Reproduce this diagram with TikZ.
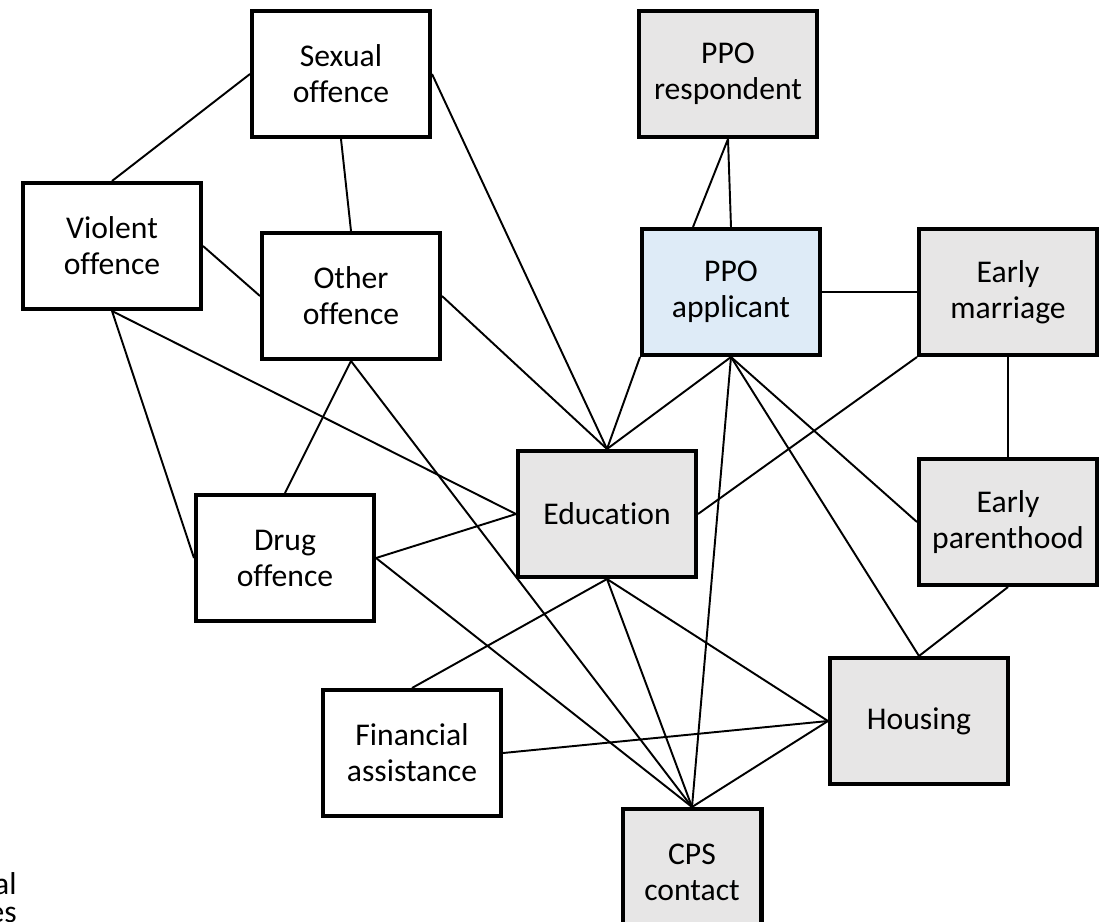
\documentclass[tikz,border=0pt]{standalone}
\usepackage{fontspec}
\setmainfont{Carlito}[Ligatures=NoCommon]
\begin{document}
\begin{tikzpicture}[x=0.02cm,y=-0.02cm,
   box/.style={draw,line width=2.3pt,minimum width=3.56cm,minimum height=2.52cm,
    align=center,font=\fontsize{18}{20.5}\selectfont},
   outcome/.style={box,fill=outcomegray},
   link/.style={line width=1.1pt}]
   \definecolor{outcomegray}{HTML}{E7E6E6}
   \definecolor{applicantblue}{HTML}{DEEBF7}
   \useasboundingbox (0,0) rectangle (1099,921);
   \clip (0,0) rectangle (1099,921);
   % offences
   \node [box] (sexual) at (341,74) {Sexual\\offence};
   \node [box] (violent) at (112,246) {Violent\\offence};
   \node [box] (other) at (351,296) {Other\\offence};
   \node [box] (drug) at (285,558) {Drug\\offence};
   \node [box] (financial) at (412,753) {Financial\\assistance};
   % PPO and outcomes
   \node [outcome] (respondent) at (728,74) {PPO\\respondent};
   \node [box,fill=applicantblue] (applicant) at (731,292) {PPO\\applicant};
   \node [outcome] (marriage) at (1008,292) {Early\\marriage};
   \node [outcome] (parenthood) at (1008,522) {Early\\parenthood};
   \node [outcome] (education) at (607,514) {Education};
   \node [outcome] (housing) at (919,721) {Housing};
   \node [outcome,minimum width=2.78cm] (cps) at (692,872) {CPS\\contact};
   % cut-off text at the lower left
   \node [anchor=north east,align=right,inner sep=0pt,
    font=\fontsize{18}{16}\selectfont] (note) at (17,872) {al\\es};
   % links
   \draw [link] (sexual.west) -- (violent.north);
   \draw [link] (sexual.south) -- (other.north);
   \draw [link] (sexual.east) -- (education.north);
   \draw [link] (violent.east) -- (other.west);
   \draw [link] (violent.south) -- (drug.west);
   \draw [link] (violent.south) -- (education.west);
   \draw [link] (other.east) -- (education.north);
   \draw [link] (other.south) -- (drug.north);
   \draw [link] (other.south) -- (cps.north);
   \draw [link] (respondent.south) -- ([xshift=-0.76cm]applicant.north);
   \draw [link] (respondent.south) -- (applicant.north);
   \draw [link] (applicant.east) -- (marriage.west);
   \draw [link] (applicant.south west) -- (education.north);
   \draw [link] (applicant.south) -- (education.north);
   \draw [link] (applicant.south) -- (cps.north);
   \draw [link] (applicant.south) -- (housing.north);
   \draw [link] (applicant.south) -- (parenthood.west);
   \draw [link] (marriage.south west) -- (education.east);
   \draw [link] (marriage.south) -- (parenthood.north);
   \draw [link] (parenthood.south) -- (housing.north);
   \draw [link] (drug.east) -- (education.west);
   \draw [link] (drug.east) -- (cps.north);
   \draw [link] (education.south) -- (financial.north);
   \draw [link] (education.south) -- (cps.north);
   \draw [link] (education.south) -- (housing.west);
   \draw [link] (financial.east) -- (housing.west);
   \draw [link] (cps.north) -- (housing.west);
\end{tikzpicture}
\end{document}
